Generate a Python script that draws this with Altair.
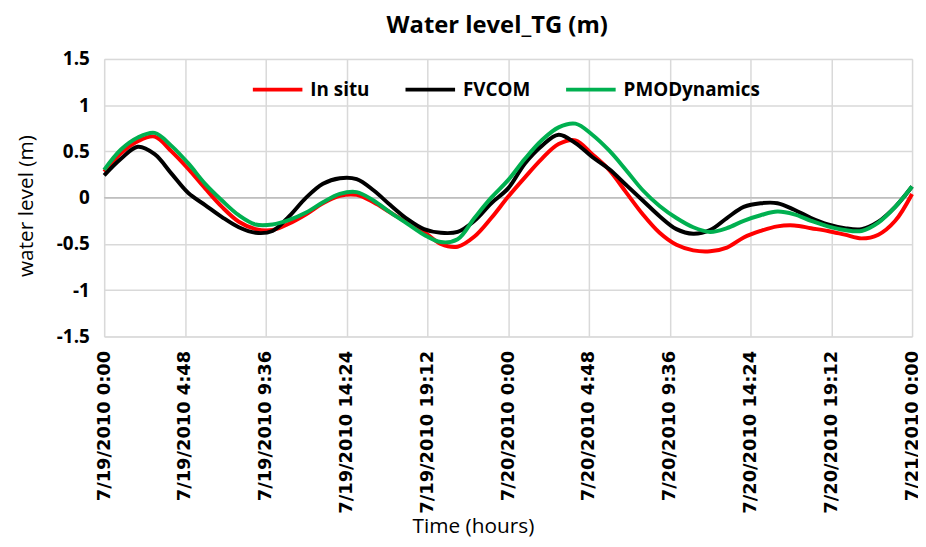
import altair as alt
import pandas as pd

# Time axis: hours since 7/19/2010 0:00
HOURS = list(range(0, 49))

IN_SITU = [0.28, 0.48, 0.61, 0.66, 0.50, 0.31, 0.10, -0.10, -0.26, -0.34,
           -0.35, -0.28, -0.18, -0.06, 0.02, 0.03, -0.05, -0.16, -0.27, -0.37,
           -0.50, -0.53, -0.42, -0.22, 0.01, 0.22, 0.42, 0.58, 0.62, 0.47,
           0.30, 0.06, -0.18, -0.38, -0.51, -0.57, -0.58, -0.54, -0.43, -0.36,
           -0.31, -0.30, -0.33, -0.36, -0.40, -0.44, -0.40, -0.25, 0.04]

FVCOM = [0.24, 0.42, 0.55, 0.47, 0.26, 0.05, -0.08, -0.21, -0.32, -0.38,
         -0.36, -0.20, 0.00, 0.15, 0.21, 0.20, 0.08, -0.08, -0.23, -0.34,
         -0.38, -0.37, -0.25, -0.06, 0.10, 0.37, 0.56, 0.68, 0.59, 0.44,
         0.31, 0.14, -0.03, -0.20, -0.34, -0.39, -0.35, -0.22, -0.10, -0.06,
         -0.06, -0.13, -0.22, -0.29, -0.33, -0.34, -0.26, -0.10, 0.12]

PMODYNAMICS = [0.30, 0.52, 0.65, 0.70, 0.56, 0.37, 0.15, -0.03, -0.19, -0.29,
               -0.29, -0.24, -0.16, -0.05, 0.04, 0.06, -0.03, -0.16, -0.28, -0.40,
               -0.48, -0.45, -0.22, 0.00, 0.19, 0.42, 0.62, 0.76, 0.80, 0.68,
               0.51, 0.30, 0.08, -0.09, -0.22, -0.32, -0.37, -0.33, -0.25, -0.19,
               -0.15, -0.18, -0.25, -0.31, -0.35, -0.36, -0.27, -0.10, 0.12]

SERIES = ["In situ", "FVCOM", "PMODynamics"]
COLORS = ["#FF0000", "#000000", "#00B050"]

TICK_HOURS = [0, 4.8, 9.6, 14.4, 19.2, 24, 28.8, 33.6, 38.4, 43.2, 48]
TICK_LABELS = ["7/19/2010 0:00", "7/19/2010 4:48", "7/19/2010 9:36",
               "7/19/2010 14:24", "7/19/2010 19:12", "7/20/2010 0:00",
               "7/20/2010 4:48", "7/20/2010 9:36", "7/20/2010 14:24",
               "7/20/2010 19:12", "7/21/2010 0:00"]
Y_TICKS = [-1.5, -1, -0.5, 0, 0.5, 1, 1.5]

rows = []
for name, vals in zip(SERIES, [IN_SITU, FVCOM, PMODYNAMICS]):
    for h, v in zip(HOURS, vals):
        rows.append({"hour": h, "value": v, "series": name})
df = pd.DataFrame(rows)

# label expression built from the tick label list
expr = "''"
for h, lab in reversed(list(zip(TICK_HOURS, TICK_LABELS))):
    expr = f"abs(datum.value - {h}) < 0.01 ? '{lab}' : ({expr})"

x = alt.X("hour:Q",
          scale=alt.Scale(domain=[0, 48], nice=False, zero=False),
          axis=alt.Axis(values=TICK_HOURS, labelExpr=expr, labelAngle=-90,
                        labelFont="DejaVu Sans", labelFontWeight="bold",
                        labelFontSize=18, labelColor="black", labelPadding=14,
                        ticks=False, domain=False, grid=True,
                        gridColor="#D9D9D9", gridWidth=1.5,
                        title="Time (hours)", titleFont="Open Sans",
                        titleFontWeight="normal", titleFontSize=21,
                        titleColor="black", titleX=372, titleY=198,
                        titleAnchor="middle", titleBaseline="alphabetic",
                        labelOverlap=False))
y = alt.Y("value:Q",
          scale=alt.Scale(domain=[-1.5, 1.5], nice=False),
          axis=alt.Axis(values=Y_TICKS, labelExpr="toString(datum.value)",
                        labelFont="Open Sans",
                        labelFontWeight="bold", labelFontSize=19,
                        labelColor="black", labelPadding=15, ticks=False,
                        domain=False, grid=True, gridColor="#D9D9D9",
                        gridWidth=1.5, title="water level (m)",
                        titleFont="Open Sans", titleFontWeight="normal",
                        titleFontSize=21, titleColor="black", titleX=-78,
                        titleY=148, titleAngle=-90, titleAlign="center",
                        titleBaseline="middle"))

zero = alt.Chart(pd.DataFrame({"z": [0]})).mark_rule(
    color="#BFBFBF", strokeWidth=1.5).encode(y=alt.Y("z:Q"))

lines = alt.Chart(df).mark_line(strokeWidth=4, interpolate="catmull-rom").encode(
    x=x, y=y,
    color=alt.Color("series:N",
                    scale=alt.Scale(domain=SERIES, range=COLORS),
                    sort=SERIES,
                    legend=alt.Legend(title=None, orient="none",
                                      direction="horizontal",
                                      legendX=148, legendY=4,
                                      symbolType="stroke",
                                      symbolSize=2500,
                                      symbolStrokeWidth=4,
                                      labelFont="Open Sans",
                                      labelFontWeight="bold",
                                      labelFontSize=19,
                                      labelColor="black",
                                      labelOffset=6,
                                      columnPadding=28)),
    order=alt.Order("hour:Q"),
)

chart = alt.layer(zero, lines).properties(
    width=815, height=280,
    padding={"left": 97, "top": 49, "right": 6, "bottom": 202},
    autosize=alt.AutoSizeParams(type="none"),
    title=alt.TitleParams("Water level_TG (m)", font="Open Sans",
                          fontSize=24, fontWeight="bold", color="black",
                          offset=12, dx=-11),
).configure_view(stroke="black", strokeWidth=2).configure(background="white")

chart.save("out.html", embed_options={"renderer": "svg", "actions": False})
